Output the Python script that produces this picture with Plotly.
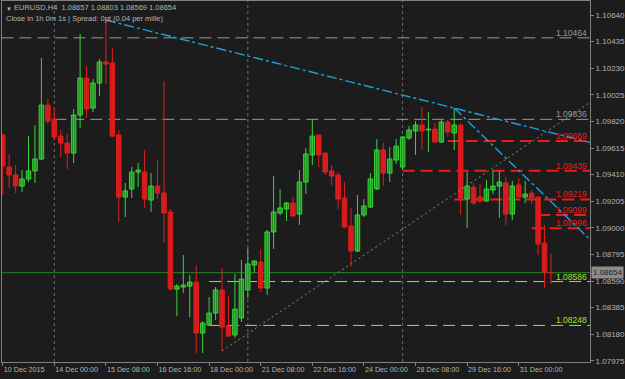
import plotly.graph_objects as go

# ---------------- data (EURUSD H4) ----------------
opens = [1.09715, 1.09469, 1.09407, 1.09322, 1.09376, 1.09438, 1.09530, 1.09946,
         1.09838, 1.09707, 1.09653, 1.09576, 1.09869, 1.10154, 1.09923, 1.10116,
         1.10278, 1.10270, 1.09715, 1.09237, 1.09299, 1.09430, 1.09430, 1.09214,
         1.09322, 1.09268, 1.09122, 1.08528, 1.08544, 1.08551, 1.08582, 1.08189,
         1.08251, 1.08343, 1.08521, 1.08243, 1.08174, 1.08305, 1.08521, 1.08713,
         1.08736, 1.08536, 1.08968, 1.09114, 1.09145, 1.09191, 1.09106, 1.09353,
         1.09561, 1.09715, 1.09576, 1.09438, 1.09407, 1.09230, 1.09014, 1.08821,
         1.09099, 1.09160, 1.09299, 1.09600, 1.09422, 1.09522, 1.09469, 1.09692,
         1.09746, 1.09792, 1.09754, 1.09761, 1.09661, 1.09815, 1.09731, 1.09792,
         1.09222, 1.09314, 1.09237, 1.09207, 1.09291, 1.09322, 1.09345, 1.09106,
         1.09330, 1.09237, 1.09268, 1.09237, 1.08883, 1.08657]
highs = [1.09723, 1.09569, 1.09484, 1.09445, 1.09707, 1.09792, 1.10309, 1.09993,
         1.09931, 1.09754, 1.09723, 1.09916, 1.10494, 1.10247, 1.10147, 1.10301,
         1.10601, 1.10386, 1.09754, 1.09345, 1.09469, 1.09499, 1.09600, 1.09422,
         1.09522, 1.10131, 1.09145, 1.08567, 1.08790, 1.08636, 1.08713, 1.08282,
         1.08467, 1.08544, 1.08690, 1.08474, 1.08644, 1.08752, 1.08844, 1.08752,
         1.08837, 1.08983, 1.09399, 1.09299, 1.09199, 1.09237, 1.09445, 1.09615,
         1.09838, 1.09720, 1.09580, 1.09484, 1.09430, 1.09353, 1.09153, 1.09253,
         1.09222, 1.09422, 1.09684, 1.09653, 1.09623, 1.09684, 1.09705, 1.09784,
         1.09823, 1.09931, 1.09892, 1.09808, 1.09831, 1.09831, 1.09923, 1.09808,
         1.09430, 1.09345, 1.09338, 1.09368, 1.09445, 1.09438, 1.09391, 1.09361,
         1.09384, 1.09361, 1.09291, 1.09245, 1.09022, 1.08803]
lows = [1.09253, 1.09307, 1.09268, 1.09276, 1.09353, 1.09345, 1.09522, 1.09800,
        1.09677, 1.09546, 1.09453, 1.09499, 1.09769, 1.09846, 1.09892, 1.10016,
        1.10108, 1.09700, 1.09045, 1.09083, 1.09230, 1.09314, 1.09153, 1.09122,
        1.09222, 1.08883, 1.08520, 1.08320, 1.08497, 1.08312, 1.08035, 1.08035,
        1.08243, 1.08289, 1.08050, 1.08158, 1.08151, 1.08274, 1.08459, 1.08652,
        1.08505, 1.08482, 1.08837, 1.09099, 1.09052, 1.09091, 1.09022, 1.09260,
        1.09484, 1.09469, 1.09407, 1.09330, 1.09145, 1.08998, 1.08698, 1.08815,
        1.09083, 1.09155, 1.09295, 1.09322, 1.09353, 1.09492, 1.09445, 1.09677,
        1.09561, 1.09600, 1.09584, 1.09661, 1.09655, 1.09700, 1.09600, 1.09099,
        1.08998, 1.09176, 1.09191, 1.09199, 1.09260, 1.09076, 1.09022, 1.09060,
        1.09230, 1.09191, 1.09183, 1.08790, 1.08536, 1.08569]
closes = [1.09476, 1.09407, 1.09322, 1.09376, 1.09438, 1.09530, 1.09946, 1.09823,
          1.09700, 1.09653, 1.09576, 1.09869, 1.10154, 1.09916, 1.10116, 1.10278,
          1.10262, 1.09707, 1.09237, 1.09284, 1.09430, 1.09445, 1.09222, 1.09322,
          1.09268, 1.09114, 1.08528, 1.08551, 1.08559, 1.08582, 1.08189, 1.08266,
          1.08343, 1.08521, 1.08235, 1.08166, 1.08374, 1.08605, 1.08721, 1.08744,
          1.08536, 1.08968, 1.09122, 1.09153, 1.09191, 1.09091, 1.09353, 1.09569,
          1.09707, 1.09561, 1.09430, 1.09399, 1.09222, 1.09006, 1.08821, 1.09099,
          1.09168, 1.09376, 1.09600, 1.09422, 1.09530, 1.09630, 1.09700, 1.09754,
          1.09792, 1.09746, 1.09761, 1.09661, 1.09815, 1.09738, 1.09792, 1.09230,
          1.09322, 1.09191, 1.09207, 1.09299, 1.09322, 1.09353, 1.09106, 1.09322,
          1.09237, 1.09260, 1.09230, 1.08875, 1.08659, 1.08654]
bars = list(range(len(opens)))

x_tick_pos = [0, 8, 16, 24, 32, 40, 48, 56, 64, 72, 80]
x_tick_text = ["10 Dec 2015", "14 Dec 00:00", "15 Dec 08:00", "16 Dec 16:00",
               "18 Dec 00:00", "21 Dec 08:00", "22 Dec 16:00", "24 Dec 00:00",
               "28 Dec 08:00", "29 Dec 16:00", "31 Dec 00:00"]
y_ticks = [1.10640, 1.10435, 1.10230, 1.10025, 1.09820, 1.09615, 1.09410,
           1.09205, 1.09000, 1.08795, 1.08590, 1.08385, 1.08180, 1.07975]

week_separators = [8, 38, 62]

level_prices = [1.10464, 1.09836, 1.09669, 1.09439, 1.09219, 1.09099, 1.08996, 1.08586, 1.08248]
level_starts = [-0.2, 8, 69, 62, 70, 83, 82, 32, 32]
level_colors = ["#9a9a9a", "#9a9a9a", "#f01a1a", "#f01a1a", "#f01a1a", "#f01a1a", "#f01a1a",
                "#a6e02a", "#a6e02a"]
level_widths = [1, 1, 2, 2, 2, 2, 2, 1, 1]

trend_x = [[16, 91.05], [70, 91.05]]
trend_y = [[1.10601, 1.09658], [1.09923, 1.08910]]
dotted_x = [34, 91.05]
dotted_y = [1.08050, 1.09967]

bid_price = 1.08654
header1 = "EURUSD,H4  1.08657 1.08803 1.08569 1.08654"
header2 = "Close in 1h 0m 1s | Spread: 0pt (0.04 per mille)"

X_RANGE = [-0.11, 91.05]
Y_RANGE = [1.07966, 1.10748]
BG = "#1c1c1c"
AX = "#808080"
TXT = "#b4b4b4"
FONT = "Liberation Sans"
UP_FILL, UP_LINE = "#1e8a1e", "#3cd23c"
DN_FILL, DN_LINE = "#d01c1c", "#e01e1e"

fig = go.Figure()

shapes = []
for xs in week_separators:
    shapes.append(dict(type="line", xref="x", yref="paper", x0=xs, x1=xs, y0=0, y1=1,
                       line=dict(color="#6e6e6e", width=1, dash="3px,3px"), layer="below"))
for p, s, c, w in zip(level_prices, level_starts, level_colors, level_widths):
    shapes.append(dict(type="line", xref="x", yref="y", x0=s, x1=X_RANGE[1], y0=p, y1=p,
                       line=dict(color=c, width=w, dash="12px,6px"), layer="below"))
shapes.append(dict(type="line", xref="paper", yref="y", x0=0, x1=1, y0=bid_price, y1=bid_price,
                   line=dict(color="#1f8a1f", width=1), layer="below"))

fig.add_trace(go.Scatter(x=dotted_x, y=dotted_y, mode="lines",
                         line=dict(color="#8a8a8a", width=1, dash="2px,3px"),
                         hoverinfo="skip", showlegend=False))

# candles: wicks + bodies, split by direction
for up in (True, False):
    idx = [i for i in bars if (closes[i] >= opens[i]) == up]
    wx, wy = [], []
    for i in idx:
        wx += [i, i, None]
        wy += [lows[i], highs[i], None]
    fig.add_trace(go.Scatter(x=wx, y=wy, mode="lines",
                             line=dict(color=UP_LINE if up else DN_LINE, width=1),
                             hoverinfo="skip", showlegend=False))
    fig.add_trace(go.Bar(
        x=idx,
        base=[min(opens[i], closes[i]) for i in idx],
        y=[max(abs(closes[i] - opens[i]), 0.00002) for i in idx],
        width=0.7,
        marker=dict(color=UP_FILL if up else DN_FILL,
                    line=dict(color=UP_LINE if up else DN_LINE, width=1)),
        hoverinfo="skip", showlegend=False))

for tx, ty in zip(trend_x, trend_y):
    fig.add_trace(go.Scatter(x=tx, y=ty, mode="lines",
                             line=dict(color="#1f9fe0", width=1.4, dash="10px,3px,3px,3px"),
                             hoverinfo="skip", showlegend=False))

annotations = []
for p, c in zip(level_prices, level_colors):
    annotations.append(dict(xref="paper", yref="y", x=1, y=p, xanchor="right", yanchor="bottom",
                            text=f"{p:.5f}", showarrow=False, font=dict(family=FONT, size=8.5, color=c),
                            xshift=-1, yshift=-2))
annotations.append(dict(xref="paper", yref="paper", x=0, y=1, xanchor="left", yanchor="top",
                        text="\u25bc", showarrow=False, font=dict(family=FONT, size=6, color=TXT),
                        xshift=2, yshift=-3))
annotations.append(dict(xref="paper", yref="paper", x=0, y=1, xanchor="left", yanchor="top",
                        text=header1, showarrow=False, font=dict(family=FONT, size=7.5, color=TXT),
                        xshift=10, yshift=0))
annotations.append(dict(xref="paper", yref="paper", x=0, y=1, xanchor="left", yanchor="top",
                        text=header2, showarrow=False, font=dict(family=FONT, size=7.5, color=TXT),
                        xshift=2, yshift=-11))
annotations.append(dict(xref="paper", yref="y", x=1, y=bid_price, xanchor="left", yanchor="middle",
                        text=f"{bid_price:.5f}", showarrow=False, bgcolor="#8c8c8c",
                        font=dict(family=FONT, size=8, color="#1c1c1c"), xshift=1, borderpad=1))

fig.update_layout(
    width=625, height=379,
    margin=dict(l=2, r=35, t=1, b=17, autoexpand=False),
    paper_bgcolor=BG, plot_bgcolor=BG,
    showlegend=False, barmode="overlay",
    shapes=shapes, annotations=annotations,
    xaxis=dict(range=X_RANGE, showgrid=False, zeroline=False,
               tickmode="array", tickvals=x_tick_pos, ticktext=x_tick_text, tickangle=0,
               automargin=False,
               ticks="outside", ticklen=3, tickcolor=AX, ticklabelposition="outside right",
               tickfont=dict(family=FONT, size=7.2, color=TXT),
               showline=True, linecolor=AX, linewidth=1, mirror=True),
    yaxis=dict(range=Y_RANGE, side="right", showgrid=False, zeroline=False,
               tickmode="array", tickvals=y_ticks, tickformat=".5f", automargin=False,
               ticks="outside", ticklen=3, tickcolor=AX,
               tickfont=dict(family=FONT, size=8, color=TXT),
               showline=True, linecolor=AX, linewidth=1, mirror=True),
)

fig.write_html("out.html")
